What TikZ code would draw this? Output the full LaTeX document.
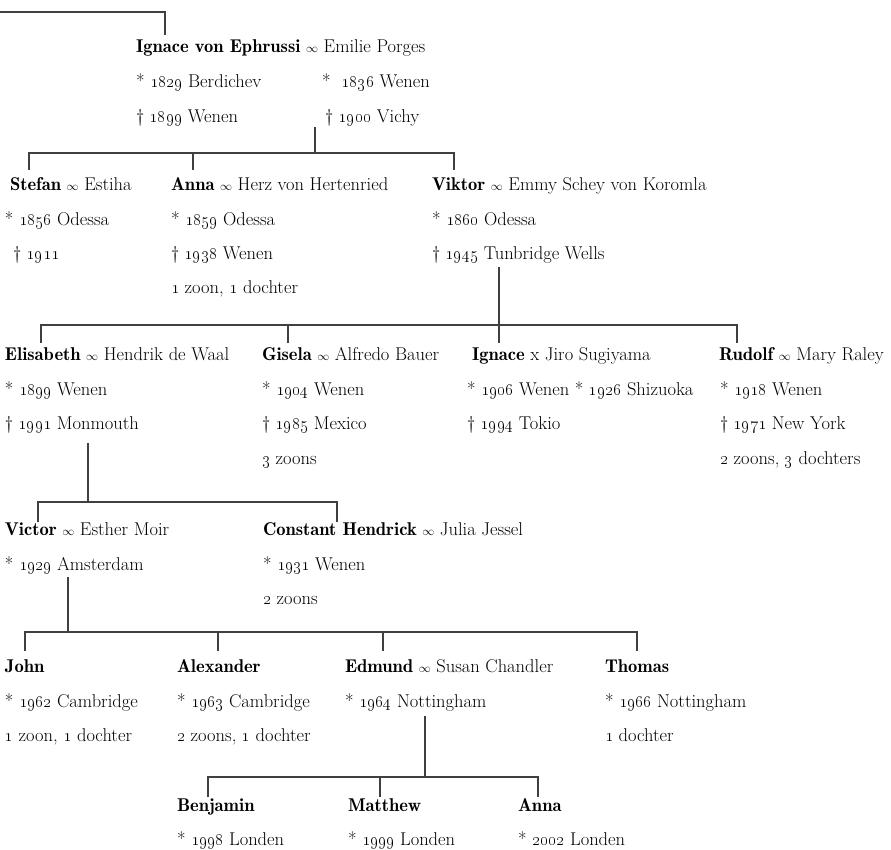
\documentclass[tikz,border=0pt]{standalone}
\newcommand\marr{{\fontsize{12.5}{12.5}\selectfont$\infty$}}
\newcommand\yr[1]{\oldstylenums{#1}}
\newcommand\nm[1]{{\fontseries{b}\selectfont #1}}
\tikzset{
  txt/.style={anchor=base west, inner sep=0pt, outer sep=0pt, font=\fontsize{18.5}{22}\selectfont},
  conn/.style={draw=black!75, line width=1.3pt},
}
\begin{document}
\begin{tikzpicture}[x=1pt, y=-1pt]
\fill[white] (0,0) rectangle (891,849);
\useasboundingbox (0,0) rectangle (891,849);

% ---------- generation 1
\node[txt] (ignace) at (136,52) {\nm{Ignace von Ephrussi} \marr\ Emilie Porges};
\node[txt] (ignace-b) at (136,87) {* \yr{1829} Berdichev};
\node[txt] (emilie-b) at (322,87) {*\ \ \yr{1836} Wenen};
\node[txt] (ignace-d) at (136,122) {\dag\ \yr{1899} Wenen};
\node[txt] (emilie-d) at (325,122) {\dag\ \yr{1900} Vichy};

% ---------- generation 2
\node[txt] (stefan) at (10,190) {\nm{Stefan} \marr\ Estiha};
\node[txt] (stefan-b) at (5,225) {* \yr{1856} Odessa};
\node[txt] (stefan-d) at (13,259) {\dag\ \yr{1911}};

\node[txt] (anna) at (171,190) {\nm{Anna} \marr\ Herz von Hertenried};
\node[txt] (anna-b) at (171,225) {* \yr{1859} Odessa};
\node[txt] (anna-d) at (171,259) {\dag\ \yr{1938} Wenen};
\node[txt] (anna-k) at (171,293) {\yr{1} zoon, \yr{1} dochter};

\node[txt] (viktor) at (432,190) {\nm{Viktor} \marr\ Emmy Schey von Koromla};
\node[txt] (viktor-b) at (432,225) {* \yr{1860} Odessa};
\node[txt] (viktor-d) at (432,259) {\dag\ \yr{1945} Tunbridge Wells};

% ---------- generation 3
\node[txt] (elisabeth) at (5,360) {\nm{Elisabeth} \marr\ Hendrik de Waal};
\node[txt] (elisabeth-b) at (5,395) {* \yr{1899} Wenen};
\node[txt] (elisabeth-d) at (5,429) {\dag\ \yr{1991} Monmouth};

\node[txt] (gisela) at (262,360) {\nm{Gisela} \marr\ Alfredo Bauer};
\node[txt] (gisela-b) at (262,395) {* \yr{1904} Wenen};
\node[txt] (gisela-d) at (262,429) {\dag\ \yr{1985} Mexico};
\node[txt] (gisela-k) at (262,464) {\yr{3} zoons};

\node[txt] (ignace2) at (472,360) {\nm{Ignace} x Jiro Sugiyama};
\node[txt] (ignace2-b) at (467,395) {* \yr{1906} Wenen * \yr{1926} Shizuoka};
\node[txt] (ignace2-d) at (467,429) {\dag\ \yr{1994} Tokio};

\node[txt] (rudolf) at (719,360) {\nm{Rudolf} \marr\ Mary Raley};
\node[txt] (rudolf-b) at (720,395) {* \yr{1918} Wenen};
\node[txt] (rudolf-d) at (720,429) {\dag\ \yr{1971} New York};
\node[txt] (rudolf-k) at (720,464) {\yr{2} zoons, \yr{3} dochters};

% ---------- generation 4
\node[txt] (victor) at (5,535) {\nm{Victor} \marr\ Esther Moir};
\node[txt] (victor-b) at (5,570) {* \yr{1929} Amsterdam};

\node[txt] (constant) at (263,535) {\nm{Constant Hendrick} \marr\ Julia Jessel};
\node[txt] (constant-b) at (263,570) {* \yr{1931} Wenen};
\node[txt] (constant-k) at (263,604) {\yr{2} zoons};

% ---------- generation 5
\node[txt] (john) at (5,672) {\nm{John}};
\node[txt] (john-b) at (5,707) {* \yr{1962} Cambridge};
\node[txt] (john-k) at (5,741) {\yr{1} zoon, \yr{1} dochter};

\node[txt] (alexander) at (177,672) {\nm{Alexander}};
\node[txt] (alexander-b) at (177,707) {* \yr{1963} Cambridge};
\node[txt] (alexander-k) at (177,741) {\yr{2} zoons, \yr{1} dochter};

\node[txt] (edmund) at (345,672) {\nm{Edmund} \marr\ Susan Chandler};
\node[txt] (edmund-b) at (345,707) {* \yr{1964} Nottingham};

\node[txt] (thomas) at (605,672) {\nm{Thomas}};
\node[txt] (thomas-b) at (605,707) {* \yr{1966} Nottingham};
\node[txt] (thomas-k) at (605,741) {\yr{1} dochter};

% ---------- generation 6
\node[txt] (benjamin) at (177,811) {\nm{Benjamin}};
\node[txt] (benjamin-b) at (177,845) {* \yr{1998} Londen};
\node[txt] (matthew) at (348,811) {\nm{Matthew}};
\node[txt] (matthew-b) at (348,845) {* \yr{1999} Londen};
\node[txt] (anna3) at (518,811) {\nm{Anna}};
\node[txt] (anna3-b) at (518,845) {* \yr{2002} Londen};

% ---------- connectors
\coordinate (top0) at (0,12);
\coordinate (top1) at (165,35);
\draw[conn] (top0) -| (top1);

% family 1
\coordinate (f1d) at (315,127);
\coordinate (f1bar) at (315,153);
\coordinate (f1s) at (29,170);
\coordinate (f1a) at (193,170);
\coordinate (f1v) at (454,170);
\draw[conn] (f1d) -- (f1bar);
\draw[conn] (f1s) |- (f1bar) -| (f1v);
\draw[conn] (f1a) -- (f1a |- f1bar);

% family 2
\coordinate (f2d) at (499,267);
\coordinate (f2bar) at (499,325);
\coordinate (f2e) at (41,343);
\coordinate (f2g) at (288,343);
\coordinate (f2i) at (499,343);
\coordinate (f2r) at (737,343);
\draw[conn] (f2d) -- (f2i);
\draw[conn] (f2e) |- (f2bar) -| (f2r);
\draw[conn] (f2g) -- (f2g |- f2bar);

% family 3
\coordinate (f3d) at (88,443);
\coordinate (f3bar) at (88,502);
\coordinate (f3v) at (38,522);
\coordinate (f3c) at (337,522);
\draw[conn] (f3d) -- (f3bar);
\draw[conn] (f3v) |- (f3bar) -| (f3c);

% family 4
\coordinate (f4d) at (68,577);
\coordinate (f4bar) at (68,632);
\coordinate (f4j) at (25,651);
\coordinate (f4a) at (218,651);
\coordinate (f4e) at (383,651);
\coordinate (f4t) at (637,651);
\draw[conn] (f4d) -- (f4bar);
\draw[conn] (f4j) |- (f4bar) -| (f4t);
\draw[conn] (f4a) -- (f4a |- f4bar);
\draw[conn] (f4e) -- (f4e |- f4bar);

% family 5
\coordinate (f5d) at (425,716);
\coordinate (f5bar) at (425,777);
\coordinate (f5b) at (208,797);
\coordinate (f5m) at (380,797);
\coordinate (f5a) at (538,797);
\draw[conn] (f5d) -- (f5bar);
\draw[conn] (f5b) |- (f5bar) -| (f5a);
\draw[conn] (f5m) -- (f5m |- f5bar);
\end{tikzpicture}
\end{document}
